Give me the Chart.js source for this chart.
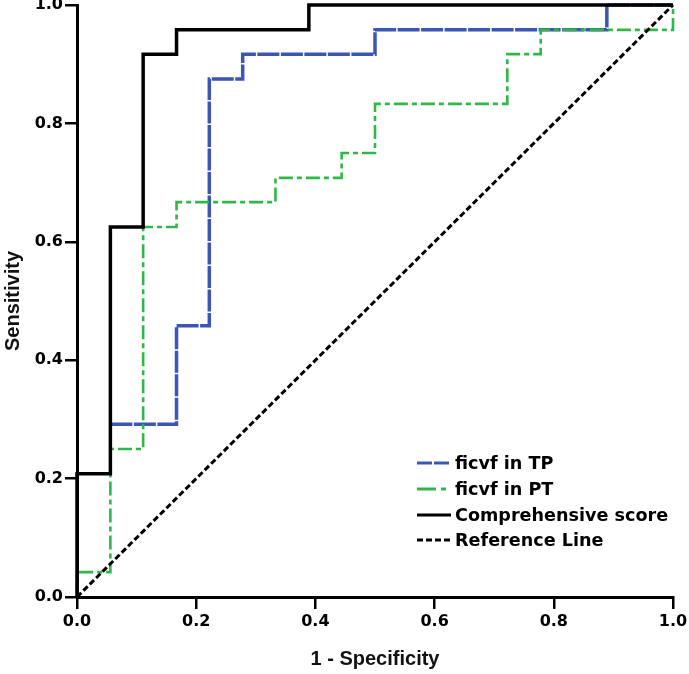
<!DOCTYPE html>
<html>
<head>
<meta charset="utf-8">
<script src="https://cdn.jsdelivr.net/npm/chart.js@4.4.1/dist/chart.umd.min.js"></script>
<style>
  html, body { margin: 0; padding: 0; background: #fff; }
  #wrap { width: 689px; height: 674px; position: relative; }
</style>
</head>
<body>
<div id="wrap"><canvas id="roc"></canvas></div>
<script>
// ROC curve vertices (1 - specificity, sensitivity)
const tpX = [0.056, 0.167, 0.167, 0.222, 0.222, 0.278, 0.278, 0.5, 0.5, 0.889, 0.889, 1.0];
const tpY = [0.292, 0.292, 0.458, 0.458, 0.875, 0.875, 0.917, 0.917, 0.958, 0.958, 1.0, 1.0];

const ptX = [0, 0, 0.056, 0.056, 0.111, 0.111, 0.167, 0.167, 0.333, 0.333, 0.444, 0.444, 0.5, 0.5, 0.722, 0.722, 0.778, 0.778, 1.0, 1.0];
const ptY = [0, 0.042, 0.042, 0.25, 0.25, 0.625, 0.625, 0.667, 0.667, 0.708, 0.708, 0.75, 0.75, 0.833, 0.833, 0.917, 0.917, 0.958, 0.958, 1.0];

const compX = [0, 0, 0.056, 0.056, 0.111, 0.111, 0.167, 0.167, 0.389, 0.389, 1.0];
const compY = [0, 0.208, 0.208, 0.625, 0.625, 0.917, 0.917, 0.958, 0.958, 1.0, 1.0];

const refX = [0, 1];
const refY = [0, 1];

const seriesLabels = ['ficvf in TP', 'ficvf in PT', 'Comprehensive score', 'Reference Line'];
const tickValues = [0, 0.2, 0.4, 0.6, 0.8, 1.0];

const toPoints = (xs, ys) => xs.map((x, i) => ({ x, y: ys[i] }));

const legendPlugin = {
  id: 'insideLegend',
  afterDraw(chart) {
    const { ctx } = chart;
    const rows = [463, 489, 515, 540];
    ctx.save();
    chart.data.datasets.forEach((ds, i) => {
      const y = rows[i];
      ctx.beginPath();
      ctx.strokeStyle = ds.borderColor;
      ctx.lineWidth = 3;
      ctx.setLineDash(ds.legendDash || []);
      ctx.moveTo(417, y);
      ctx.lineTo(451, y);
      ctx.stroke();
      ctx.setLineDash([]);
      ctx.fillStyle = '#000';
      ctx.font = 'bold 17.6px "DejaVu Sans"';
      ctx.textBaseline = 'middle';
      ctx.textAlign = 'left';
      ctx.fillText(ds.label, 455, y + 1);
    });
    ctx.restore();
  },
};

const tickFont = { family: '"DejaVu Sans"', size: 16, weight: 'bold' };
const titleFont = { family: '"Liberation Sans", Arial, sans-serif', size: 20, weight: 'bold' };

new Chart(document.getElementById('roc'), {
  type: 'scatter',
  data: {
    datasets: [
      {
        label: seriesLabels[0],
        data: toPoints(tpX, tpY),
        borderColor: '#3b56b3',
        borderWidth: 3.5,
        borderDash: [22, 1.5],
        legendDash: [15, 2],
        order: 3,
      },
      {
        label: seriesLabels[1],
        data: toPoints(ptX, ptY),
        borderColor: '#30b846',
        borderWidth: 2.6,
        borderDash: [14, 4, 5, 4],
        legendDash: [19, 5, 5, 5],
        order: 2,
      },
      {
        label: seriesLabels[2],
        data: toPoints(compX, compY),
        borderColor: '#000000',
        borderWidth: 3.5,
        order: 0,
      },
      {
        label: seriesLabels[3],
        data: toPoints(refX, refY),
        borderColor: '#000000',
        borderWidth: 3,
        borderDash: [6, 3],
        legendDash: [6, 3],
        order: 1,
      },
    ],
  },
  options: {
    responsive: true,
    maintainAspectRatio: false,
    animation: false,
    showLine: true,
    clip: false,
    elements: {
      point: { radius: 0, hoverRadius: 0 },
      line: { tension: 0, fill: false },
    },
    layout: { padding: { top: 5, right: 16, left: 0, bottom: 0 } },
    scales: {
      x: {
        type: 'linear',
        min: 0,
        max: 1,
        afterBuildTicks(scale) { scale.ticks = tickValues.map((v) => ({ value: v })); },
        afterFit(scale) { scale.height = 77; scale.paddingLeft = 0; scale.paddingRight = 0; },
        border: { display: true, color: '#000', width: 3 },
        grid: { drawOnChartArea: false, drawTicks: true, tickLength: 12, color: '#000', lineWidth: 2.5 },
        ticks: {
          color: '#000',
          font: tickFont,
          padding: 3,
          maxRotation: 0,
          callback: (v) => Number(v).toFixed(1),
        },
        title: { display: true, text: '1 - Specificity', color: '#111', font: titleFont, padding: { top: 0, bottom: 3 } },
      },
      y: {
        type: 'linear',
        min: 0,
        max: 1,
        afterBuildTicks(scale) { scale.ticks = tickValues.map((v) => ({ value: v })); },
        afterFit(scale) { scale.width = 77; scale.paddingTop = 0; scale.paddingBottom = 0; },
        border: { display: true, color: '#000', width: 3 },
        grid: { drawOnChartArea: false, drawTicks: true, tickLength: 12, color: '#000', lineWidth: 2.5 },
        ticks: {
          color: '#000',
          font: tickFont,
          padding: 2,
          callback: (v) => Number(v).toFixed(1),
        },
        title: { display: true, text: 'Sensitivity', color: '#111', font: titleFont, padding: { top: 1, bottom: 0 } },
      },
    },
    plugins: {
      legend: { display: false },
      tooltip: { enabled: false },
    },
  },
  plugins: [legendPlugin],
});
</script>
</body>
</html>
